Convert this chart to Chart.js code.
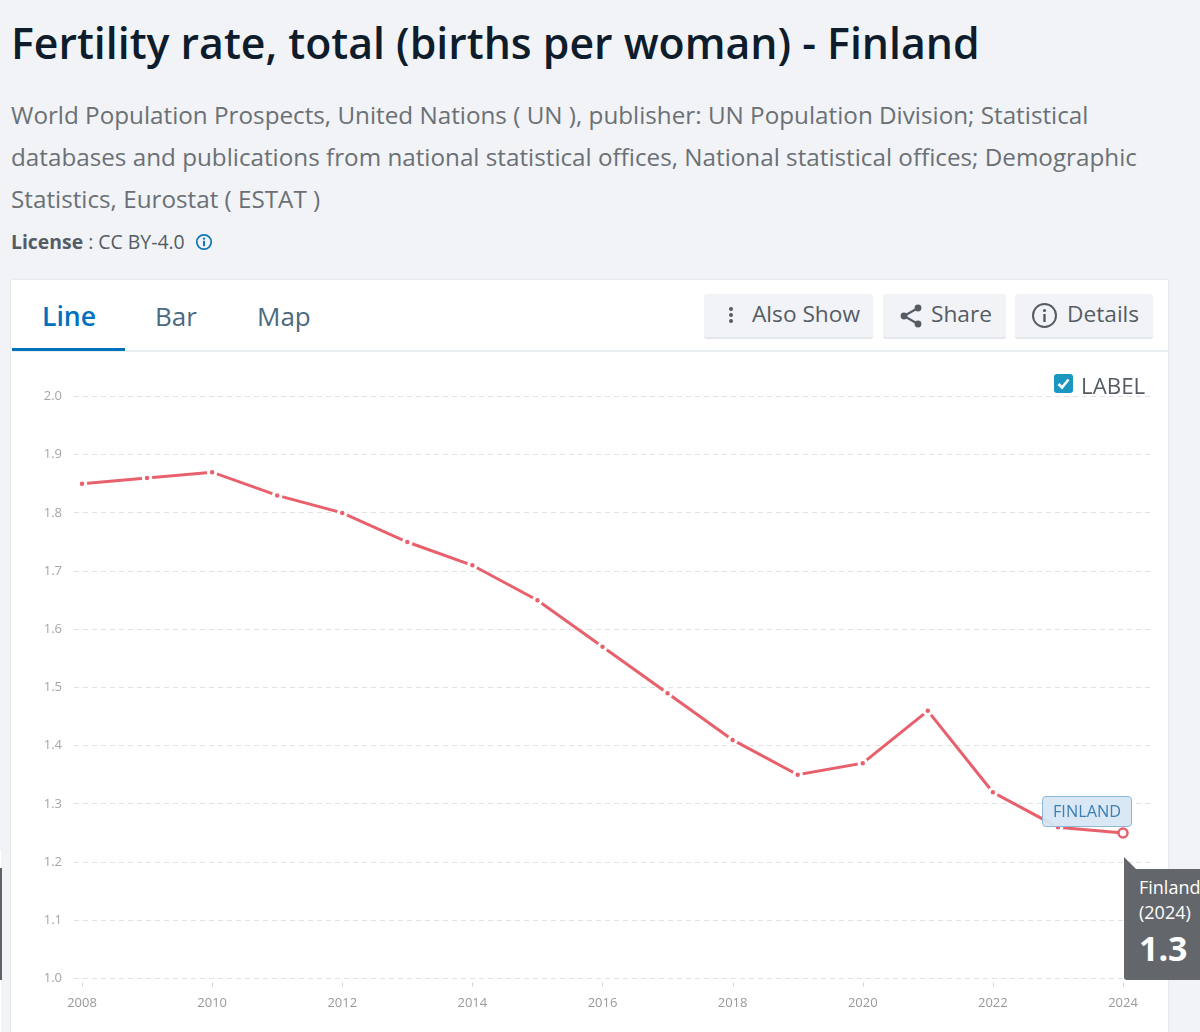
<!DOCTYPE html>
<html><head><meta charset="utf-8">
<script src="https://cdn.jsdelivr.net/npm/chart.js@4/dist/chart.umd.min.js"></script>
<style>
html,body{margin:0;padding:0;width:1200px;height:1032px;overflow:hidden;background:#f1f3f7;font-family:"Open Sans",sans-serif}
.a{position:absolute;white-space:nowrap}
#card{left:11px;top:280px;width:1157px;height:760px;background:#fff;box-shadow:0 0 2px rgba(0,0,0,.12)}
#sep{left:12px;top:350px;width:1156px;height:2px;background:#e9eef0}
#under{left:12px;top:348px;width:113px;height:3px;background:#0071bc}
.btn{top:294px;height:43px;background:#f1f3f6;border-bottom:2px solid #e3e6ea;border-radius:3px;color:#555c63;font-size:22.7px;line-height:39px}
canvas{position:absolute;left:0;top:0}
#lab{box-sizing:border-box;width:90px;height:31px;background:rgba(214,230,243,.93);border:1.5px solid #8db8d8;border-radius:4px;color:#3b7fb4;font-size:16.3px;line-height:28px;text-align:center}
#tip{width:76px;height:111px;background:#63676b;border-radius:0 0 0 3px;color:#fff;overflow:hidden}
#arrow{width:0;height:0;border-top:12px solid transparent;border-left:12px solid #63676b;}
</style></head><body>
<div class="a" style="left:11px;top:14px;font-size:42.8px;font-weight:600;color:#0e1c2b;line-height:57px">Fertility rate, total (births per woman) - Finland</div>
<div class="a" style="left:11px;top:94px;font-size:24.24px;color:#6b7075;line-height:42px">World Population Prospects, United Nations ( UN ), publisher: UN Population Division; Statistical<br>databases and publications from national statistical offices, National statistical offices; Demographic<br>Statistics, Eurostat ( ESTAT )</div>
<div class="a" style="left:11px;top:229px;font-size:19.4px;color:#555c63;line-height:26px"><b style="font-weight:700">License</b> : CC BY-4.0</div>
<svg class="a" style="left:195px;top:233px" width="18" height="18" viewBox="0 0 18 18"><circle cx="9" cy="9" r="7.2" fill="none" stroke="#0d76b8" stroke-width="1.7"/><circle cx="9" cy="5.6" r="1.2" fill="#0d76b8"/><rect x="8" y="7.8" width="2" height="5.4" fill="#0d76b8"/></svg>
<div class="a" style="left:0;top:850px;width:1px;height:182px;background:#fff"></div>
<div class="a" style="left:0;top:868px;width:2px;height:112px;background:#5f6368"></div>
<div class="a" id="card"></div>
<div class="a" id="sep"></div><div class="a" id="under"></div>
<div class="a" style="left:42px;top:298px;font-size:26.6px;font-weight:600;color:#0071bc;line-height:36px">Line</div>
<div class="a" style="left:155px;top:298px;font-size:26px;color:#4a6a80;line-height:36px">Bar</div>
<div class="a" style="left:257px;top:298px;font-size:26px;color:#4a6a80;line-height:36px">Map</div>
<div class="a btn" style="left:704px;width:169px"><svg class="a" style="left:22px;top:11px" width="10" height="20"><circle cx="5" cy="4" r="2" fill="#555c63"/><circle cx="5" cy="10" r="2" fill="#555c63"/><circle cx="5" cy="16" r="2" fill="#555c63"/></svg><span class="a" style="left:48px">Also Show</span></div>
<div class="a btn" style="left:883px;width:123px"><svg class="a" style="left:16px;top:9px" width="24" height="26"><path d="M19 5L5 13L19 21" fill="none" stroke="#555c63" stroke-width="2.2"/><circle cx="19" cy="5" r="3.4" fill="#555c63"/><circle cx="5" cy="13" r="3.4" fill="#555c63"/><circle cx="19" cy="21" r="3.4" fill="#555c63"/></svg><span class="a" style="left:48px">Share</span></div>
<div class="a btn" style="left:1015px;width:138px"><svg class="a" style="left:16px;top:8px" width="27" height="27" viewBox="0 0 27 27"><circle cx="13.5" cy="13.5" r="11.5" fill="none" stroke="#555c63" stroke-width="2"/><circle cx="13.5" cy="8.5" r="1.6" fill="#555c63"/><rect x="12.3" y="12" width="2.4" height="8" fill="#555c63"/></svg><span class="a" style="left:52px">Details</span></div>
<canvas id="c" width="1200" height="1032" style="width:1200px;height:1032px"></canvas>
<svg class="a" style="left:1054px;top:374px" width="19" height="19"><rect width="19" height="19" rx="3" fill="#1a96bf"/><path d="M4.5 10L8 13.5L14.5 5.5" fill="none" stroke="#fff" stroke-width="2.6"/></svg>
<div class="a" style="left:1081px;top:371px;font-size:22.3px;color:#555c63;line-height:30px">LABEL</div>
<div class="a" id="lab">FINLAND</div>
<div class="a" id="arrow"></div>
<div class="a" id="tip"><div class="a" style="left:15px;top:6px;font-size:18px;line-height:25px">Finland<br>(2024)</div><div class="a" style="left:15px;top:54px;font-size:34px;font-weight:700;line-height:50px">1.3</div></div>
<script>
const years=[2008,2009,2010,2011,2012,2013,2014,2015,2016,2017,2018,2019,2020,2021,2022,2023,2024];
const fertility=[1.85,1.86,1.87,1.83,1.80,1.75,1.71,1.65,1.57,1.49,1.41,1.35,1.37,1.46,1.32,1.26,1.25];
const xTicks=[2008,2010,2012,2014,2016,2018,2020,2022,2024];
const yTicks=[1.0,1.1,1.2,1.3,1.4,1.5,1.6,1.7,1.8,1.9,2.0];
const LINE='#e8606c', last=years.length-1;
const xTickMarks={id:'xTickMarks',afterDraw(ch){const g=ch.ctx,s=ch.scales.x,b=ch.chartArea.bottom;g.save();g.strokeStyle='#d5d5d5';g.lineWidth=1;xTicks.forEach(v=>{const p=Math.round(s.getPixelForValue(v))+.5;g.beginPath();g.moveTo(p,b+4);g.lineTo(p,b+8);g.stroke();});g.restore();}};
const chart=new Chart(document.getElementById('c'),{
 type:'line',
 data:{datasets:[{data:years.map((y,i)=>({x:y,y:fertility[i]})),borderColor:LINE,borderWidth:3,tension:0,clip:false,
  pointRadius:c=>c.dataIndex===last?4.5:3.75,
  pointBorderWidth:c=>c.dataIndex===last?2.5:3,
  pointBackgroundColor:c=>c.dataIndex===last?'#fff':LINE,
  pointBorderColor:c=>c.dataIndex===last?LINE:'#fff'}]},
 plugins:[xTickMarks],
 options:{responsive:false,animation:false,devicePixelRatio:1,
  layout:{padding:{left:0,right:47,top:396.5,bottom:23.5}},
  plugins:{legend:{display:false},tooltip:{enabled:false}},
  scales:{
   x:{type:'linear',min:2008-8/65.06,max:2024+30/65.06,
    afterBuildTicks:a=>{a.ticks=xTicks.map(v=>({value:v}));},
    afterFit:a=>{a.height=30;},
    grid:{display:false},border:{display:false},
    ticks:{autoSkip:false,maxRotation:0,padding:9,color:'#999',font:{family:'"Open Sans"',size:13},callback:v=>String(v)}},
   y:{min:1,max:2,
    afterBuildTicks:a=>{a.ticks=yTicks.map(v=>({value:v}));},
    afterFit:a=>{a.width=74;},
    grid:{color:'#e2e2e2',lineWidth:1,drawTicks:false},border:{display:false,dash:[5,4]},
    ticks:{padding:12,color:'#a5a5a5',font:{family:'"Open Sans"',size:13},callback:v=>v.toFixed(1)}}
  }}
});
const px=chart.scales.x.getPixelForValue(years[last]),py=chart.scales.y.getPixelForValue(fertility[last]);
const set=(id,l,t)=>{const e=document.getElementById(id);e.style.left=l+'px';e.style.top=t+'px';};
set('lab',px-81,py-37);
set('tip',px+1,py+36);
set('arrow',px+1,py+24);
</script></body></html>
